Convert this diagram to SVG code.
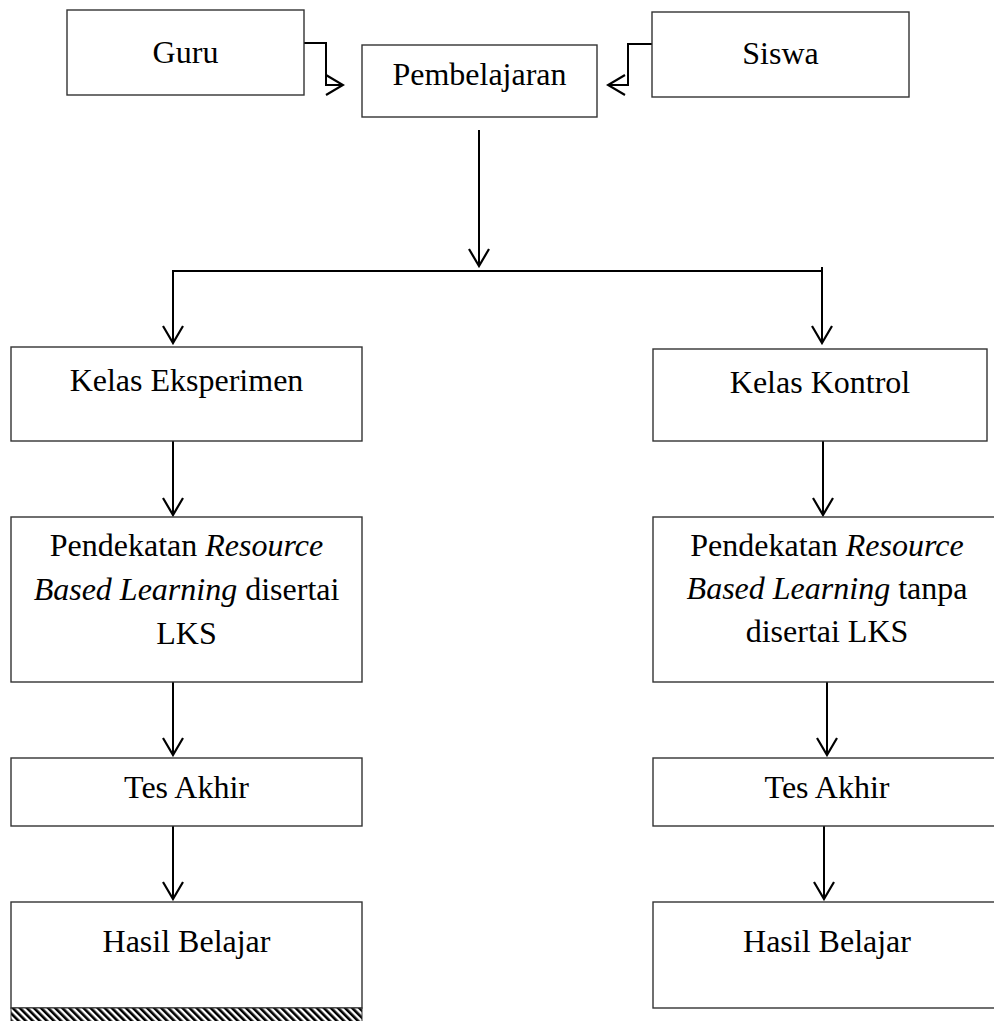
<svg xmlns="http://www.w3.org/2000/svg" width="994" height="1021" viewBox="0 0 994 1021">
<style>
.box{fill:#fff;stroke:#333;stroke-width:1.4}
.t{font-family:"Liberation Serif","Times New Roman",serif;font-size:32px;fill:#000;text-anchor:middle}
.i{font-style:italic}
.c{fill:none;stroke:#000;stroke-width:2}
</style>
<defs>
<marker id="ah" viewBox="0 0 20 22" refX="18" refY="11" markerWidth="20" markerHeight="22" markerUnits="userSpaceOnUse" orient="auto">
<path d="M1,1 L18,11 L1,21" fill="none" stroke="#000" stroke-width="2.2"/>
</marker>
<pattern id="hatch" width="5" height="5" patternUnits="userSpaceOnUse" patternTransform="rotate(-45)">
<rect width="5" height="5" fill="#fff"/>
<rect width="2.6" height="5" fill="#000"/>
</pattern>
</defs>
<rect width="994" height="1021" fill="#fff"/>
<g id="connectors">
<path class="c" d="M304,43 H326 V85 H343" marker-end="url(#ah)"/>
<path class="c" d="M652,44 H628 V85 H608" marker-end="url(#ah)"/>
<path class="c" d="M479,130 V266" marker-end="url(#ah)"/>
<path class="c" d="M173,343 V271 H822"/>
<path class="c" d="M173,271 V343" marker-end="url(#ah)"/>
<path class="c" d="M822,267 V343" marker-end="url(#ah)"/>
<path class="c" d="M173,441 V515" marker-end="url(#ah)"/>
<path class="c" d="M823,441 V515" marker-end="url(#ah)"/>
<path class="c" d="M173,682 V755" marker-end="url(#ah)"/>
<path class="c" d="M827,682 V755" marker-end="url(#ah)"/>
<path class="c" d="M173,826 V899" marker-end="url(#ah)"/>
<path class="c" d="M824,826 V899" marker-end="url(#ah)"/>
</g>
<g id="guru"><rect class="box" x="67" y="10" width="237" height="85"/><text class="t" x="185.5" y="63">Guru</text></g>
<g id="pembelajaran"><rect class="box" x="362" y="45" width="235" height="72"/><text class="t" x="479.5" y="85">Pembelajaran</text></g>
<g id="siswa"><rect class="box" x="652" y="12" width="257" height="85"/><text class="t" x="780.5" y="64">Siswa</text></g>
<g id="kelas-eksperimen"><rect class="box" x="11" y="347" width="351" height="94"/><text class="t" x="186.5" y="391">Kelas Eksperimen</text></g>
<g id="kelas-kontrol"><rect class="box" x="653" y="349" width="334" height="92"/><text class="t" x="820" y="393">Kelas Kontrol</text></g>
<g id="pendekatan-eksperimen"><rect class="box" x="11" y="517" width="351" height="165"/>
<text class="t" x="186.5" y="556">Pendekatan <tspan class="i">Resource</tspan></text>
<text class="t" x="186.5" y="600"><tspan class="i">Based Learning</tspan> disertai</text>
<text class="t" x="186.5" y="644">LKS</text></g>
<g id="pendekatan-kontrol"><rect class="box" x="653" y="517" width="350" height="165"/>
<text class="t" x="827" y="556">Pendekatan <tspan class="i">Resource</tspan></text>
<text class="t" x="827" y="599"><tspan class="i">Based Learning</tspan> tanpa</text>
<text class="t" x="827" y="642">disertai LKS</text></g>
<g id="tes-akhir-eksperimen"><rect class="box" x="11" y="758" width="351" height="68"/><text class="t" x="186.5" y="798">Tes Akhir</text></g>
<g id="tes-akhir-kontrol"><rect class="box" x="653" y="758" width="350" height="68"/><text class="t" x="827" y="798">Tes Akhir</text></g>
<g id="hasil-belajar-eksperimen"><rect class="box" x="11" y="902" width="351" height="106"/><text class="t" x="186.5" y="952">Hasil Belajar</text>
<rect x="11" y="1008" width="351" height="14" fill="url(#hatch)" stroke="#333" stroke-width="1"/></g>
<g id="hasil-belajar-kontrol"><rect class="box" x="653" y="902" width="350" height="106"/><text class="t" x="827" y="952">Hasil Belajar</text></g>
</svg>
